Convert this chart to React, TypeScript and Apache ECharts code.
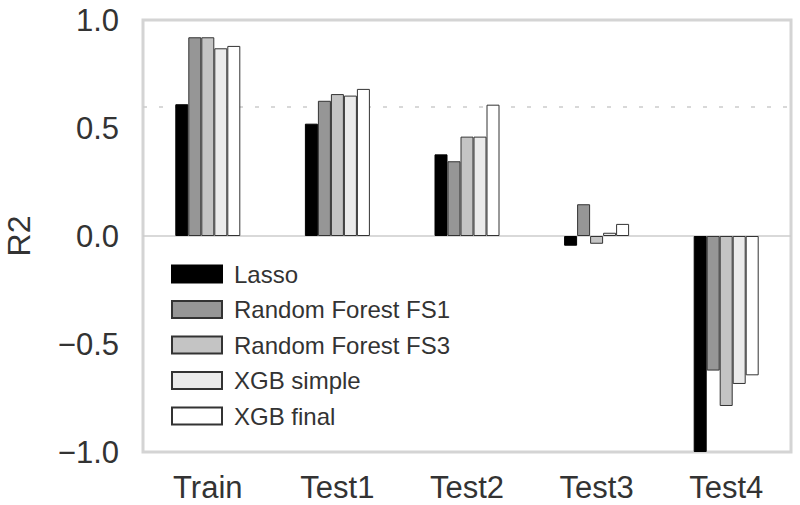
import React, { useEffect, useRef } from "react";
import * as echarts from "echarts";

const categories = ["Train", "Test1", "Test2", "Test3", "Test4"];
const seriesNames = ["Lasso", "Random Forest FS1", "Random Forest FS3", "XGB simple", "XGB final"];
const lasso = [0.61, 0.52, 0.378, -0.045, -1.0];
const rfFs1 = [0.92, 0.626, 0.346, 0.147, -0.623];
const rfFs3 = [0.92, 0.657, 0.46, -0.036, -0.787];
const xgbSimple = [0.869, 0.65, 0.46, 0.015, -0.685];
const xgbFinal = [0.88, 0.681, 0.608, 0.056, -0.645];
const yTicks = [-1.0, -0.5, 0.0, 0.5, 1.0];
const referenceLine = 0.6;

const fills = ["#000000", "#969696", "#c4c4c4", "#ebebeb", "#ffffff"];
const borders = ["#000000", "#333333", "#333333", "#333333", "#333333"];
const FONT = "'Liberation Sans', Arial, sans-serif";
const TEXT = "#333333";

export default function App() {
  const ref = useRef<HTMLDivElement>(null);
  useEffect(() => {
    document.body.style.margin = "0";
    if (!ref.current) return;
    const chart = echarts.init(ref.current, null, { renderer: "svg" });
    const values = [lasso, rfFs1, rfFs3, xgbSimple, xgbFinal];
    const series: any[] = values.map((d, i) => ({
      name: seriesNames[i],
      type: "bar",
      data: d,
      barWidth: 13,
      barGap: "0%",
      itemStyle: { color: fills[i], borderColor: borders[i], borderWidth: 1 },
      ...(i === 0
        ? {
            markLine: {
              silent: true,
              symbol: "none",
              z: 1,
              label: { show: false },
              data: [
                { yAxis: 0, lineStyle: { color: "#cccccc", width: 1.5, type: "solid" } },
                { yAxis: referenceLine, lineStyle: { color: "#cccccc", width: 1.5, type: [4, 12] } },
              ],
            },
          }
        : {}),
    }));
    chart.setOption({
      animation: false,
      backgroundColor: "#ffffff",
      textStyle: { fontFamily: FONT },
      grid: {
        left: 143,
        top: 20,
        width: 648,
        height: 432,
        show: true,
        borderColor: "#d4d4d4",
        borderWidth: 3,
        backgroundColor: "transparent",
        containLabel: false,
        outerBoundsMode: "none",
      },
      legend: {
        orient: "vertical",
        left: 166,
        top: 257,
        itemWidth: 50,
        itemHeight: 17,
        itemGap: 11.5,
        icon: "rect",
        data: seriesNames,
        textStyle: { color: TEXT, fontSize: 24, fontFamily: FONT, padding: [0, 0, 0, 7] },
      },
      xAxis: {
        type: "category",
        data: categories,
        axisLine: { show: false, onZero: false },
        axisTick: { show: false },
        splitLine: { show: false },
        axisLabel: { color: TEXT, fontSize: 31, fontFamily: FONT, margin: 20 },
      },
      yAxis: {
        type: "value",
        min: yTicks[0],
        max: yTicks[yTicks.length - 1],
        interval: 0.5,
        name: "R2",
        nameLocation: "middle",
        nameRotate: 90,
        nameGap: 108,
        nameTextStyle: { color: TEXT, fontSize: 32, fontFamily: FONT },
        axisLine: { show: false },
        axisTick: { show: false },
        splitLine: { show: false },
        axisLabel: {
          color: TEXT,
          fontSize: 31,
          fontFamily: FONT,
          margin: 24,
          formatter: (v: number) => (v < 0 ? "\u2212" + Math.abs(v).toFixed(1) : v.toFixed(1)),
        },
      },
      series,
    });
    return () => chart.dispose();
  }, []);
  return <div ref={ref} style={{ width: 800, height: 505 }} />;
}
